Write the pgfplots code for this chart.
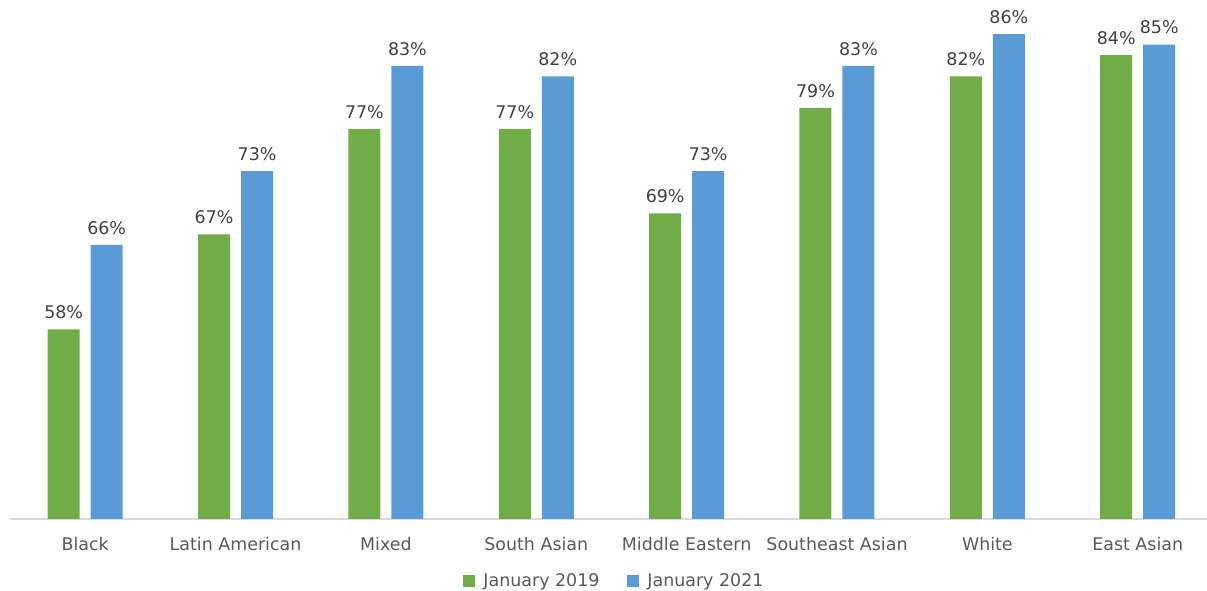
\documentclass[border=0pt]{standalone}
\usepackage{pgfplots}
\pgfplotsset{compat=1.18}
\usepackage{fontspec}
\setmainfont{DejaVu Sans}
\definecolor{cgreen}{HTML}{70AD47}
\definecolor{cblue}{HTML}{5B9BD5}
\definecolor{ctext}{HTML}{595959}
\definecolor{clab}{HTML}{404040}
\definecolor{caxis}{HTML}{D9D9D9}
\begin{document}
\begin{tikzpicture}
\path[use as bounding box] (0bp,0bp) rectangle (1207bp,591bp);
\begin{axis}[
  at={(10bp,72bp)}, anchor=south west,
  scale only axis,
  width=1203bp, height=527bp,
  xmin=-0.5, xmax=7.5, ymin=40, ymax=90,
  /pgf/number format/assume math mode=true,
  axis x line*=bottom, axis y line=none,
  x axis line style={caxis, line width=1.2bp, -},
  xtick={0,1,2,3,4,5,6,7},
  xticklabels={Black, Latin American, Mixed, South Asian, Middle Eastern, Southeast Asian, White, East Asian},
  major tick length=0pt,
  xticklabel style={font=\fontsize{17.5}{20}\selectfont, text=ctext, yshift=-15bp},
  ybar, bar width=32bp,
  nodes near coords={\pgfmathprintnumber{\pgfplotspointmeta}\%},
  nodes near coords style={font=\fontsize{17.5}{20}\selectfont, text=clab, yshift=7bp},
  legend columns=2,
  legend style={draw=none, fill=none, at={(0.5025,-0.117)}, anchor=center,
    font=\fontsize{17.5}{20}\selectfont, text=ctext,
    /tikz/every even column/.append style={column sep=26bp}},
  legend image code/.code={\fill[#1] (0bp,-6bp) rectangle (12bp,6bp); \path (18bp,0bp);},
]
\addplot[fill=cgreen, draw=none, bar shift=-21.5bp] coordinates {(0,58) (1,67) (2,77) (3,77) (4,69) (5,79) (6,82) (7,84)};
\addplot[fill=cblue, draw=none, bar shift=21.5bp] coordinates {(0,66) (1,73) (2,83) (3,82) (4,73) (5,83) (6,86) (7,85)};
\legend{January 2019, January 2021}
\end{axis}
\end{tikzpicture}
\end{document}
